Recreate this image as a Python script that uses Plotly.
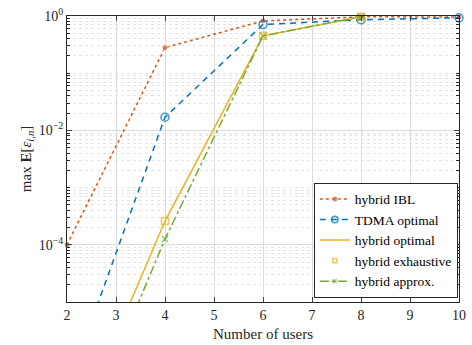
import plotly.graph_objects as go

# Number of users on the x axis
users = [2, 4, 6, 8, 10]

# Maximum expected error per scheme (hybrid schemes evaluated up to 8 users)
ibl = [1.0e-4, 0.28, 0.82, 0.97, 0.96]
tdma = [3.0e-7, 0.017, 0.71, 0.86, 0.93]
hyb_opt = [2.5e-8, 2.6e-4, 0.45, 0.97, None]
hyb_exh = [2.5e-8, 2.6e-4, 0.45, 0.97, None]
hyb_apx = [1.0e-8, 1.26e-4, 0.45, 0.97, None]

x_ticks = [2, 3, 4, 5, 6, 7, 8, 9, 10]
y_ticks = [1e-4, 1e-2, 1e0]
y_tick_text = ["10<sup>−4</sup>", "10<sup>−2</sup>", "10<sup>0</sup>"]

Y_MIN = 1e-5
FONT = '"Liberation Serif", "DejaVu Serif", serif'
AXIS = "#262626"
GRID = "#dcdcdc"


def sizes(values, size):
    # hide markers that fall below the visible range (the lines are clipped anyway)
    return [size if (v is not None and v >= Y_MIN) else 0 for v in values]


fig = go.Figure()
fig.add_trace(go.Scatter(
    x=users, y=ibl, name="hybrid IBL", mode="lines+markers", cliponaxis=False,
    line=dict(color="#D95319", width=1.5, dash="dot"),
    marker=dict(symbol="circle", size=sizes(ibl, 6), color="#D95319"),
))
fig.add_trace(go.Scatter(
    x=users, y=tdma, name="TDMA optimal", mode="lines+markers", cliponaxis=False,
    line=dict(color="#0072BD", width=1.5, dash="6px,5px"),
    marker=dict(symbol="circle-open", size=sizes(tdma, 8), color="#0072BD", line=dict(width=1.6)),
))
fig.add_trace(go.Scatter(
    x=users, y=hyb_opt, name="hybrid optimal", mode="lines",
    line=dict(color="#EDB120", width=1.5),
))
fig.add_trace(go.Scatter(
    x=users, y=hyb_exh, name="hybrid exhaustive", mode="markers", cliponaxis=False,
    marker=dict(symbol="square-open", size=sizes(hyb_exh, 7), color="#EDB120", line=dict(width=1.5)),
))
fig.add_trace(go.Scatter(
    x=users, y=hyb_apx, name="hybrid approx.", mode="lines+markers", cliponaxis=False,
    line=dict(color="#77AC30", width=1.5, dash="dashdot"),
    marker=dict(symbol="x-thin", size=sizes(hyb_apx, 6), color="#77AC30",
                line=dict(width=1.5, color="#77AC30")),
))

minor_vals = [m * 10.0 ** k for k in range(-5, 0) for m in range(1, 10)]

fig.update_layout(
    width=472, height=345,
    margin=dict(l=67, r=6, t=12, b=40),
    paper_bgcolor="white", plot_bgcolor="white",
    font=dict(family=FONT, size=14, color=AXIS),
    showlegend=True,
    legend=dict(
        x=0.997, y=0.015, xanchor="right", yanchor="bottom",
        bgcolor="white", bordercolor=AXIS, borderwidth=1,
        font=dict(family=FONT, size=13.5, color="#000000"),
        tracegroupgap=0, itemwidth=30,
    ),
    xaxis=dict(
        range=[2, 10], tickvals=x_ticks, ticks="inside", ticklen=5,
        showline=True, linecolor=AXIS, linewidth=1, mirror="allticks",
        showgrid=True, gridcolor=GRID, gridwidth=1, zeroline=False,
        title=dict(text="Number of users", font=dict(family=FONT, size=15), standoff=6),
        tickfont=dict(family=FONT, size=14),
    ),
    yaxis=dict(
        type="log", range=[-5, 0], tickvals=y_ticks, ticktext=y_tick_text,
        ticks="inside", ticklen=5,
        showline=True, linecolor=AXIS, linewidth=1, mirror="allticks",
        showgrid=True, gridcolor=GRID, gridwidth=1, zeroline=False,
        minor=dict(tickvals=minor_vals, ticks="inside", ticklen=3, tickcolor=AXIS,
                   showgrid=True, gridcolor="#e4e4e4", griddash="dot", gridwidth=1),
        title=dict(text="max <b>E</b>[<i>ε<sub>i,n</sub></i>]",
                   font=dict(family=FONT, size=15), standoff=3),
        tickfont=dict(family=FONT, size=14),
    ),
)

fig.write_html("out.html")
